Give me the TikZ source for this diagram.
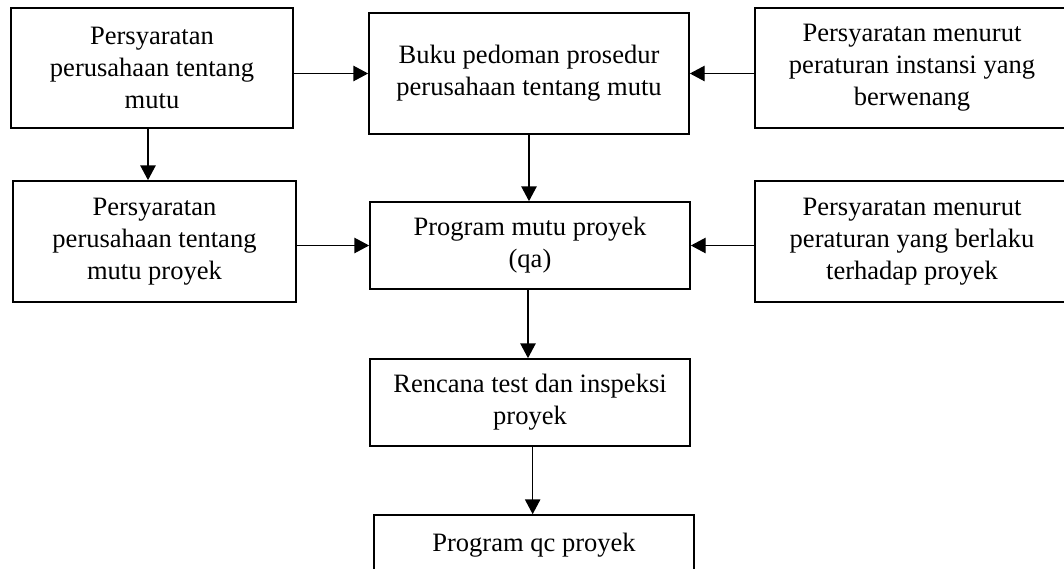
\documentclass[tikz,border=0pt]{standalone}
\usepackage{fontspec}
\setmainfont{Liberation Serif}
\usetikzlibrary{arrows.meta}

\tikzset{every picture/.style={line width=0.75pt}}
\tikzset{
  box/.style={draw, line width=1.3pt, rectangle, align=center, inner sep=0pt,
    font=\fontsize{19.9}{24}\selectfont},
  arr/.style={draw, line width=0.8pt, -{Triangle[length=11pt,width=11.5pt]}}
}

\begin{document}
\begin{tikzpicture}[x=0.75pt,y=0.75pt,yscale=-1,xscale=1]
		\useasboundingbox (0,0) rectangle (1064,568);

		%Shape: Rectangle [id:b1] 
		\node[box, minimum width=282*0.75pt, minimum height=120*0.75pt] (b1) at (152,68) {Persyaratan\\perusahaan tentang\\mutu};
		%Shape: Rectangle [id:b2] 
		\node[box, minimum width=320*0.75pt, minimum height=121*0.75pt] (b2) at (529,73.5) {Buku pedoman prosedur\\perusahaan tentang mutu};
		%Shape: Rectangle [id:b3] 
		\node[box, minimum width=314*0.75pt, minimum height=120*0.75pt] (b3) at (912,68) {Persyaratan menurut\\peraturan instansi yang\\berwenang};
		%Shape: Rectangle [id:b4] 
		\node[box, minimum width=283*0.75pt, minimum height=121*0.75pt] (b4) at (154.5,241.5) {Persyaratan\\perusahaan tentang\\mutu proyek};
		%Shape: Rectangle [id:b5] 
		\node[box, minimum width=320*0.75pt, minimum height=87*0.75pt] (b5) at (530,245.5) {Program mutu proyek\\(qa)};
		%Shape: Rectangle [id:b6] 
		\node[box, minimum width=314*0.75pt, minimum height=121*0.75pt] (b6) at (912,241.5) {Persyaratan menurut\\peraturan yang berlaku\\terhadap proyek};
		%Shape: Rectangle [id:b7] 
		\node[box, minimum width=320*0.75pt, minimum height=87*0.75pt] (b7) at (530,402.5) {Rencana test dan inspeksi\\proyek};
		%Shape: Rectangle [id:b8] 
		\node[box, minimum width=320*0.75pt, minimum height=60*0.75pt] (b8) at (534,545) {Program qc proyek};

		%Straight Lines 
		\draw[arr] (b1.east |- b2.west) -- (b2.west);
		%Straight Lines 
		\draw[arr] (b3.west |- b2.east) -- (b2.east);
		%Straight Lines 
		\draw[arr] ([xshift=-3pt]b1.south) -- ([xshift=-3pt]b1.south |- b4.north);
		%Straight Lines 
		\draw[arr] (b4.east |- b5.west) -- (b5.west);
		%Straight Lines 
		\draw[arr] (b6.west |- b5.east) -- (b5.east);
		%Straight Lines 
		\draw[arr] (b2.south) -- (b2.south |- b5.north);
		%Straight Lines 
		\draw[arr] ([xshift=-1.5pt]b5.south) -- ([xshift=-1.5pt]b5.south |- b7.north);
		%Straight Lines 
		\draw[arr] ([xshift=2pt]b7.south) -- ([xshift=2pt]b7.south |- b8.north);

\end{tikzpicture}
\end{document}
